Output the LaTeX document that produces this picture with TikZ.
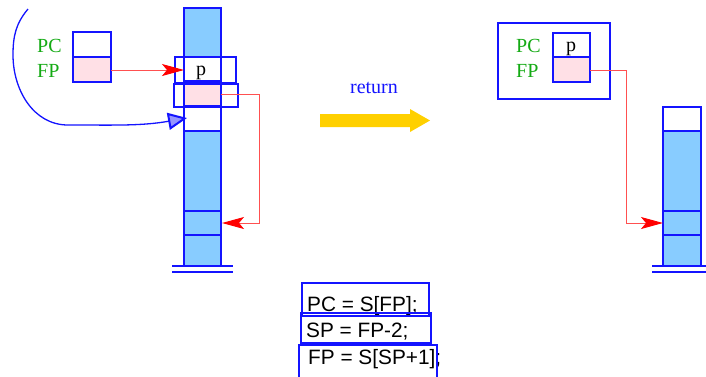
\documentclass[tikz,border=0pt]{standalone}
\usepackage{fontspec}
\setmainfont{Liberation Serif}
\newfontfamily\codefont{Liberation Sans}
\usetikzlibrary{arrows.meta}
\definecolor{stackblue}{RGB}{136,204,255}
\definecolor{cellpink}{RGB}{255,224,230}
\definecolor{lblgreen}{RGB}{20,170,20}
\definecolor{lineblue}{RGB}{20,20,255}
\definecolor{gold}{RGB}{255,208,0}
\definecolor{linered}{RGB}{255,80,80}
\tikzset{
  outl/.style={draw=lineblue, line width=1.3pt},
  lbl/.style={text=lblgreen, font=\fontsize{20}{24}\selectfont, anchor=base west, inner sep=0pt},
  ptxt/.style={font=\fontsize{20}{24}\selectfont, anchor=base, inner sep=0pt},
  code/.style={font=\codefont\fontsize{20.8}{25}\selectfont, anchor=base west, inner sep=0pt},
  redarrow/.style={draw=linered, line width=1pt, -{Stealth[length=22pt,width=12pt,inset=5pt,color=red]}},
}
\begin{document}
\begin{tikzpicture}[x=1pt,y=-1pt]
\useasboundingbox (0,0) rectangle (706,376);

% ---------- left register box ----------
\node[lbl] (pcl) at (37,52) {PC};
\node[lbl] (fpl) at (37,77) {FP};
\fill[white] (73,32) rectangle (111,57);
\fill[cellpink] (73,57) rectangle (111,82);
\draw[outl] (73,32) rectangle (111,82);
\draw[outl] (73,57) -- (111,57);
\coordinate (lfp) at (111,70);

% ---------- left stack ----------
\fill[stackblue] (184,8) rectangle (221,266);
\fill[white] (184,57) rectangle (221,81);
\fill[cellpink] (184,81) rectangle (221,106);
\fill[white] (184,106) rectangle (221,131);
\draw[outl] (184,266) -- (184,8) -- (221,8) -- (221,266);
\foreach \yy in {81,106,131,211,235} \draw[outl] (184,\yy) -- (221,\yy);
\draw[outl] (172,266) -- (233,266);
\draw[outl] (172,272) -- (233,272);
\node[ptxt] (lp) at (201,75) {p};
\draw[outl] (175,57) rectangle (236,83);
\draw[outl] (174,84) rectangle (238,107);
\coordinate (lpcell) at (184,70);
\coordinate (lfpcell) at (221,94);
\coordinate (lsave) at (222,223);
\coordinate (lcorner1) at (259,94);
\coordinate (lcorner2) at (259,223);

\draw[redarrow] (lfp) -- (lpcell);
\draw[redarrow] (lfpcell) -- (lcorner1) -- (lcorner2) -- (lsave);

% ---------- blue hand-drawn curve ----------
\coordinate (cstart) at (28,9);
\coordinate (cleft) at (13,55);
\coordinate (cbot) at (68,125);
\coordinate (cend) at (187,118);
\draw[draw=lineblue, line width=1.3pt, -{Triangle[length=19pt,width=17pt,line width=2pt,fill=lineblue!45]}]
  (cstart) to[out=230,in=90] (cleft) to[out=-90,in=180] (cbot) to[out=0,in=190] (cend);

% ---------- return arrow ----------
\node[text=lineblue, font=\fontsize{20}{24}\selectfont, inner sep=0pt] (ret) at (374,88) {return};
\fill[gold] (320,114) -- (410,114) -- (410,109) -- (430,120.5) -- (410,132) -- (410,127) -- (320,127) -- cycle;

% ---------- right register box ----------
\draw[outl] (498,23) rectangle (610,99);
\node[lbl] (pcr) at (516,52) {PC};
\node[lbl] (fpr) at (516,77) {FP};
\fill[white] (553,33) rectangle (590,57);
\fill[cellpink] (553,57) rectangle (590,82);
\draw[outl] (553,33) rectangle (590,82);
\draw[outl] (553,57) -- (590,57);
\node[ptxt] (rp) at (571,51) {p};
\coordinate (rfp) at (590,70);
\coordinate (rc1) at (626,70);
\coordinate (rc2) at (626,223);
\coordinate (rtarget) at (663,223);

% ---------- right stack ----------
\fill[stackblue] (663,131) rectangle (701,266);
\fill[white] (663,107) rectangle (701,131);
\draw[outl] (663,266) -- (663,107) -- (701,107) -- (701,266);
\foreach \yy in {131,211,235} \draw[outl] (663,\yy) -- (701,\yy);
\draw[outl] (652,266) -- (706,266);
\draw[outl] (652,272) -- (706,272);

\draw[redarrow] (rfp) -- (rc1) -- (rc2) -- (rtarget);

% ---------- code ----------
\node[code] (c1) at (307,311) {PC = S[FP];};
\node[code] (c2) at (306,337) {SP = FP-2;};
\node[code] (c3) at (308,364) {FP = S[SP+1];};
\draw[outl] (302,283) rectangle (429,316);
\draw[outl] (301,313) rectangle (431,343);
\draw[outl] (299,380) -- (299,345) -- (437,345) -- (437,380);
\end{tikzpicture}
\end{document}
